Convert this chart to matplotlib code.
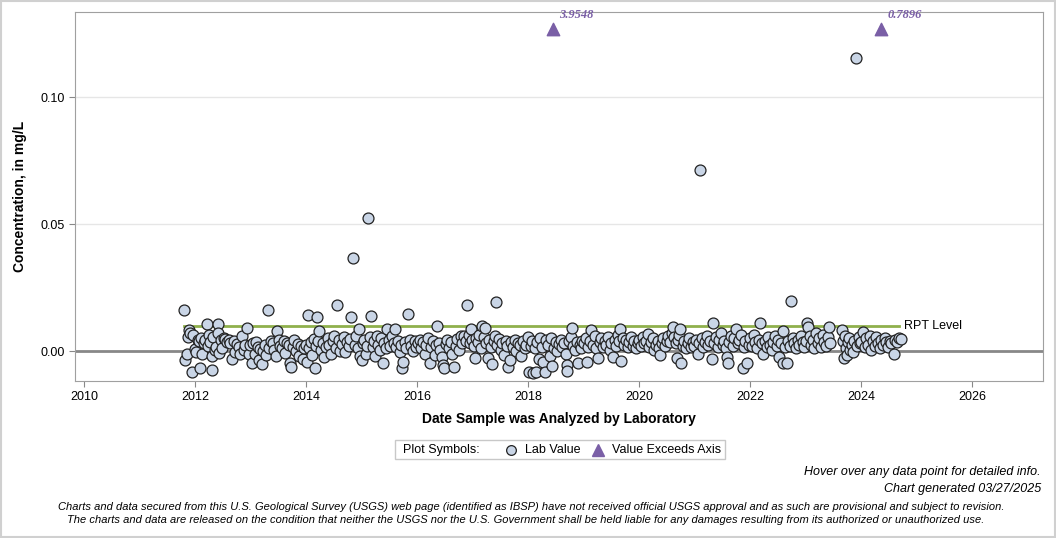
# USGS style scatter of lab concentrations with reporting level

import matplotlib.pyplot as plt
from matplotlib.lines import Line2D
from matplotlib.patches import Rectangle

plt.rcParams['font.family'] = ['Liberation Sans', 'DejaVu Sans']

pts_2011 = [(2011.80, 0.0161), (2011.82, -0.0035), (2011.85, -0.0012), (2011.87, 0.0055),
            (2011.90, 0.0083), (2011.92, 0.0070), (2011.95, -0.0083), (2011.97, 0.0062)]
pts_2012 = [(2012.00, 0.0008), (2012.02, -0.0002), (2012.05, 0.0045), (2012.07, 0.0038), (2012.09, -0.0067),
            (2012.11, 0.0050), (2012.13, -0.0010), (2012.16, 0.0030), (2012.18, 0.0042), (2012.21, 0.0106),
            (2012.24, 0.0020), (2012.26, 0.0062), (2012.27, 0.0035), (2012.30, -0.0075), (2012.31, -0.0020),
            (2012.33, 0.0055), (2012.36, 0.0005), (2012.38, 0.0015), (2012.41, 0.0106), (2012.42, 0.0070),
            (2012.44, -0.0008), (2012.47, 0.0042), (2012.49, 0.0012), (2012.52, 0.0052), (2012.55, 0.0048),
            (2012.58, 0.0035), (2012.61, 0.0044), (2012.64, 0.0030), (2012.67, -0.0030), (2012.70, 0.0040),
            (2012.73, -0.0005), (2012.76, 0.0028), (2012.79, 0.0015), (2012.82, -0.0010), (2012.85, 0.0060),
            (2012.88, 0.0005), (2012.94, 0.0091), (2012.91, 0.0022), (2012.97, -0.0012)]
pts_2013 = [(2013.00, 0.0022), (2013.03, -0.0048), (2013.05, 0.0030), (2013.08, -0.0010), (2013.10, 0.0035),
            (2013.13, 0.0015), (2013.15, -0.0035), (2013.18, 0.0008), (2013.21, -0.0050), (2013.23, 0.0000),
            (2013.26, 0.0025), (2013.29, -0.0015), (2013.32, 0.0161), (2013.34, 0.0012), (2013.37, 0.0040),
            (2013.40, 0.0032), (2013.43, 0.0005), (2013.46, -0.0020), (2013.48, 0.0079), (2013.51, 0.0045),
            (2013.54, 0.0020), (2013.57, 0.0010), (2013.60, 0.0038), (2013.63, -0.0008), (2013.66, 0.0030),
            (2013.69, 0.0025), (2013.71, -0.0047), (2013.73, -0.0063), (2013.76, 0.0015), (2013.79, 0.0042),
            (2013.82, 0.0000), (2013.85, 0.0028), (2013.88, -0.0018), (2013.91, 0.0020), (2013.94, -0.0030),
            (2013.97, 0.0010)]
pts_2014 = [(2014.00, 0.0025), (2014.02, -0.0043), (2014.04, 0.0142), (2014.06, 0.0010), (2014.09, 0.0035),
            (2014.11, -0.0015), (2014.14, 0.0048), (2014.16, -0.0067), (2014.18, 0.0020), (2014.20, 0.0134),
            (2014.22, 0.0040), (2014.24, 0.0079), (2014.27, 0.0005), (2014.30, 0.0030), (2014.33, -0.0025),
            (2014.36, 0.0015), (2014.39, 0.0050), (2014.42, 0.0022), (2014.45, -0.0010), (2014.48, 0.0038),
            (2014.51, 0.0060), (2014.54, 0.0012), (2014.56, 0.0181), (2014.59, 0.0045), (2014.62, 0.0000),
            (2014.65, 0.0028), (2014.68, 0.0055), (2014.71, -0.0005), (2014.74, 0.0035), (2014.77, 0.0018),
            (2014.79, 0.0048), (2014.81, 0.0134), (2014.85, 0.0366), (2014.88, 0.0025), (2014.90, 0.0060),
            (2014.93, 0.0010), (2014.95, 0.0087), (2014.98, -0.0020)]
pts_2015 = [(2015.01, -0.0035), (2015.03, 0.0030), (2015.05, 0.0045), (2015.08, -0.0010), (2015.10, 0.0020),
            (2015.12, 0.0524), (2015.15, 0.0055), (2015.17, 0.0138), (2015.20, 0.0015), (2015.22, 0.0040),
            (2015.25, -0.0020), (2015.28, 0.0060), (2015.30, 0.0025), (2015.33, 0.0005), (2015.36, 0.0050),
            (2015.39, -0.0047), (2015.41, 0.0032), (2015.44, 0.0012), (2015.46, 0.0087), (2015.49, 0.0045),
            (2015.52, 0.0020), (2015.55, 0.0060), (2015.58, 0.0030), (2015.60, 0.0087), (2015.63, 0.0015),
            (2015.66, 0.0040), (2015.69, -0.0005), (2015.71, 0.0025), (2015.73, -0.0067), (2015.75, -0.0043),
            (2015.78, 0.0035), (2015.81, 0.0010), (2015.84, 0.0146), (2015.87, 0.0042), (2015.90, 0.0020),
            (2015.93, 0.0000), (2015.96, 0.0038), (2015.99, 0.0015)]
pts_2016 = [(2016.02, 0.0030), (2016.05, 0.0045), (2016.08, 0.0010), (2016.11, 0.0035), (2016.14, -0.0010),
            (2016.17, 0.0025), (2016.20, 0.0050), (2016.23, -0.0047), (2016.26, 0.0015), (2016.29, 0.0040),
            (2016.32, -0.0015), (2016.34, 0.0022), (2016.36, 0.0098), (2016.39, 0.0030), (2016.42, 0.0005),
            (2016.45, -0.0025), (2016.47, -0.0055), (2016.49, -0.0067), (2016.52, 0.0028), (2016.55, 0.0045),
            (2016.58, 0.0010), (2016.61, 0.0035), (2016.64, -0.0012), (2016.67, -0.0063), (2016.70, 0.0020),
            (2016.73, 0.0048), (2016.76, 0.0005), (2016.79, 0.0058), (2016.82, 0.0030), (2016.85, 0.0060),
            (2016.88, 0.0040), (2016.90, 0.0181), (2016.93, 0.0065), (2016.95, 0.0030), (2016.97, 0.0087),
            (2016.99, 0.0045)]
pts_2017 = [(2017.02, 0.0020), (2017.05, -0.0028), (2017.07, 0.0050), (2017.10, 0.0035), (2017.12, 0.0065),
            (2017.15, 0.0010), (2017.17, 0.0098), (2017.20, 0.0055), (2017.23, 0.0091), (2017.25, 0.0030),
            (2017.28, -0.0028), (2017.30, 0.0045), (2017.33, 0.0015), (2017.35, -0.0051), (2017.38, 0.0038),
            (2017.40, 0.0060), (2017.42, 0.0193), (2017.45, 0.0025), (2017.48, 0.0048), (2017.51, 0.0005),
            (2017.54, 0.0032), (2017.57, -0.0015), (2017.60, 0.0040), (2017.63, 0.0020), (2017.65, -0.0063),
            (2017.67, -0.0035), (2017.70, 0.0035), (2017.73, 0.0015), (2017.76, 0.0042), (2017.79, 0.0000),
            (2017.82, 0.0030), (2017.85, 0.0022), (2017.88, -0.0020), (2017.91, 0.0038), (2017.94, 0.0010),
            (2017.97, 0.0025)]
pts_2018 = [(2018.00, 0.0055), (2018.02, -0.0083), (2018.05, 0.0020), (2018.07, 0.0040), (2018.09, -0.0087),
            (2018.12, 0.0010), (2018.14, -0.0083), (2018.17, 0.0035), (2018.20, -0.0030), (2018.22, 0.0050),
            (2018.25, 0.0015), (2018.28, -0.0045), (2018.30, -0.0083), (2018.33, 0.0045), (2018.36, 0.0025),
            (2018.39, -0.0020), (2018.42, 0.0050), (2018.44, -0.0059), (2018.47, 0.0012), (2018.50, 0.0035),
            (2018.53, 0.0000), (2018.56, 0.0028), (2018.59, 0.0045), (2018.62, 0.0015), (2018.65, 0.0030),
            (2018.68, -0.0010), (2018.70, -0.0055), (2018.71, -0.0079), (2018.74, 0.0040), (2018.77, 0.0055),
            (2018.79, 0.0091), (2018.82, 0.0020), (2018.85, 0.0005), (2018.88, 0.0035), (2018.90, -0.0047),
            (2018.93, 0.0025), (2018.96, 0.0010), (2018.98, 0.0040)]
pts_2019 = [(2019.01, 0.0030), (2019.04, 0.0050), (2019.06, -0.0043), (2019.09, 0.0015), (2019.11, 0.0040),
            (2019.14, 0.0083), (2019.17, 0.0025), (2019.20, 0.0060), (2019.23, 0.0010), (2019.26, -0.0028),
            (2019.29, 0.0035), (2019.32, 0.0050), (2019.35, 0.0015), (2019.38, 0.0040), (2019.41, 0.0025),
            (2019.44, 0.0055), (2019.47, 0.0005), (2019.50, 0.0030), (2019.53, -0.0024), (2019.56, 0.0045),
            (2019.59, 0.0020), (2019.62, 0.0065), (2019.64, 0.0038), (2019.66, 0.0087), (2019.68, -0.0039),
            (2019.71, 0.0050), (2019.74, 0.0025), (2019.77, 0.0042), (2019.80, 0.0015), (2019.83, 0.0035),
            (2019.86, 0.0055), (2019.89, 0.0020), (2019.92, 0.0040), (2019.95, 0.0010), (2019.98, 0.0030)]
pts_2020 = [(2020.01, 0.0045), (2020.04, 0.0020), (2020.07, 0.0055), (2020.10, 0.0030), (2020.13, 0.0040),
            (2020.16, 0.0067), (2020.19, 0.0015), (2020.22, 0.0035), (2020.25, 0.0050), (2020.28, 0.0005),
            (2020.31, 0.0025), (2020.34, 0.0040), (2020.37, 0.0010), (2020.38, -0.0016), (2020.41, 0.0030),
            (2020.44, 0.0050), (2020.47, 0.0020), (2020.50, 0.0040), (2020.53, 0.0060), (2020.56, 0.0035),
            (2020.59, 0.0070), (2020.61, 0.0094), (2020.64, 0.0055), (2020.66, 0.0030), (2020.68, -0.0028),
            (2020.70, 0.0045), (2020.72, 0.0065), (2020.74, 0.0087), (2020.76, -0.0047), (2020.79, 0.0020),
            (2020.82, 0.0040), (2020.85, 0.0010), (2020.88, 0.0030), (2020.91, 0.0050), (2020.94, 0.0015),
            (2020.97, 0.0035)]
pts_2021 = [(2021.00, 0.0020), (2021.03, 0.0045), (2021.06, -0.0010), (2021.08, 0.0030), (2021.10, 0.0713),
            (2021.13, 0.0050), (2021.16, 0.0015), (2021.19, 0.0035), (2021.22, 0.0060), (2021.25, 0.0025),
            (2021.28, 0.0040), (2021.31, -0.0032), (2021.33, 0.0110), (2021.36, 0.0030), (2021.39, 0.0055),
            (2021.42, 0.0015), (2021.45, 0.0045), (2021.48, 0.0070), (2021.51, 0.0025), (2021.54, 0.0040),
            (2021.57, 0.0010), (2021.59, -0.0024), (2021.60, -0.0047), (2021.63, 0.0035), (2021.66, 0.0060),
            (2021.69, 0.0020), (2021.72, 0.0050), (2021.75, 0.0087), (2021.78, 0.0030), (2021.81, 0.0045),
            (2021.84, 0.0065), (2021.87, -0.0067), (2021.89, 0.0015), (2021.92, 0.0040), (2021.95, -0.0047),
            (2021.98, 0.0025)]
pts_2022 = [(2022.01, 0.0050), (2022.04, 0.0020), (2022.07, 0.0065), (2022.10, 0.0035), (2022.13, 0.0010),
            (2022.16, 0.0045), (2022.18, 0.0110), (2022.21, 0.0030), (2022.24, -0.0010), (2022.27, 0.0040),
            (2022.30, 0.0015), (2022.33, 0.0055), (2022.36, 0.0025), (2022.39, 0.0005), (2022.42, 0.0035),
            (2022.45, 0.0060), (2022.48, 0.0020), (2022.51, 0.0045), (2022.53, -0.0024), (2022.56, 0.0030),
            (2022.59, 0.0079), (2022.60, -0.0047), (2022.63, 0.0015), (2022.66, -0.0047), (2022.69, 0.0040),
            (2022.72, 0.0020), (2022.74, 0.0197), (2022.77, 0.0050), (2022.80, 0.0030), (2022.83, 0.0010),
            (2022.86, 0.0045), (2022.89, 0.0025), (2022.92, 0.0060), (2022.95, 0.0035), (2022.98, 0.0015)]
pts_2023 = [(2023.01, 0.0040), (2023.03, 0.0110), (2023.05, 0.0094), (2023.08, 0.0060), (2023.10, 0.0025),
            (2023.13, 0.0045), (2023.16, 0.0010), (2023.19, 0.0070), (2023.22, 0.0030), (2023.25, 0.0050),
            (2023.28, 0.0015), (2023.31, 0.0065), (2023.34, 0.0035), (2023.37, 0.0020), (2023.40, 0.0055),
            (2023.42, 0.0094), (2023.45, 0.0030), (2023.66, 0.0083), (2023.68, 0.0040), (2023.69, -0.0028),
            (2023.71, 0.0060), (2023.73, 0.0010), (2023.75, -0.0015), (2023.77, 0.0035), (2023.79, 0.0050),
            (2023.81, 0.0005), (2023.83, 0.0025), (2023.85, -0.0005), (2023.88, 0.0040), (2023.91, 0.1154),
            (2023.93, 0.0020), (2023.96, 0.0055), (2023.98, 0.0030)]
pts_2024 = [(2024.01, 0.0035), (2024.04, 0.0075), (2024.07, 0.0015), (2024.10, 0.0050), (2024.13, 0.0025),
            (2024.16, 0.0060), (2024.19, 0.0005), (2024.22, 0.0040), (2024.25, 0.0020), (2024.28, 0.0055),
            (2024.31, 0.0030), (2024.34, 0.0010), (2024.37, 0.0045), (2024.40, 0.0025), (2024.43, 0.0050),
            (2024.46, 0.0035), (2024.49, 0.0015), (2024.52, 0.0040), (2024.55, 0.0030), (2024.59, -0.0012),
            (2024.62, 0.0045), (2024.65, 0.0035), (2024.68, 0.0051), (2024.72, 0.0048)]

# values beyond the axis top, drawn as triangles with the real value as label
exceed_dates = [2018.45, 2024.36]
exceed_values = ['3.9548', '0.7896']
exceed_plot_y = 0.1268

rpt_level = 0.01
rpt_start, rpt_end = 2011.80, 2024.68

all_pts = (pts_2011 + pts_2012 + pts_2013 + pts_2014 + pts_2015 + pts_2016 + pts_2017 +
           pts_2018 + pts_2019 + pts_2020 + pts_2021 + pts_2022 + pts_2023 + pts_2024)
dates = [p[0] for p in all_pts]
values = [p[1] for p in all_pts]

purple = '#7a5fa6'
fig = plt.figure(figsize=(10.56, 5.38), dpi=100)
fig.patches.append(Rectangle((0.001, 0.002), 0.998, 0.996, transform=fig.transFigure,
                             fill=False, edgecolor='#d0d0d0', lw=1.5))
ax = fig.add_axes([75 / 1056, 1 - 381 / 538, 968 / 1056, 369 / 538])

ax.axhline(0.05, color='#e6e6e6', lw=1, zorder=0)
ax.axhline(0.10, color='#e6e6e6', lw=1, zorder=0)
ax.axhline(0.0, color='#888888', lw=2, zorder=1)
ax.plot([rpt_start, rpt_end], [rpt_level, rpt_level], color='#8fb04c', lw=2, zorder=2)
ax.text(rpt_end + 0.09, rpt_level, 'RPT Level', fontsize=9, va='center', ha='left')

ax.scatter(dates, values, s=62, facecolor='#c9d5e6', edgecolor='#222222', linewidths=0.9, zorder=3)
ax.scatter(exceed_dates, [exceed_plot_y] * 2, marker='^', s=80, color=purple, zorder=3)
for d, v in zip(exceed_dates, exceed_values):
    ax.text(d + 0.12, exceed_plot_y + 0.0032, v, color=purple, fontsize=9, fontweight='bold',
            fontstyle='italic', family=['Liberation Serif', 'DejaVu Serif'], ha='left', va='bottom')

ax.set_xlim(2009.84, 2027.28)
ax.set_ylim(-0.0118, 0.1335)
ax.set_xticks(range(2010, 2027, 2))
ax.set_yticks([0.0, 0.05, 0.10])
ax.set_yticklabels(['0.00', '0.05', '0.10'])
ax.tick_params(labelsize=9, colors='#888888', labelcolor='black', length=4)
for s in ax.spines.values():
    s.set_color('#a0a0a0')
ax.set_xlabel('Date Sample was Analyzed by Laboratory', fontsize=10, fontweight='bold', labelpad=6)
ax.set_ylabel('Concentration, in mg/L', fontsize=10, fontweight='bold')
ax.yaxis.set_label_coords(-0.050, 0.5)

# legend box
fig.patches.append(Rectangle((395 / 1056, 1 - 459 / 538), 330 / 1056, 19 / 538,
                             transform=fig.transFigure, fill=False, edgecolor='#c8c8c8', lw=1))
ly = 1 - 450 / 538
fig.text(403 / 1056, ly, 'Plot Symbols:', fontsize=9, va='center')
fig.add_artist(Line2D([511 / 1056], [ly], marker='o', markersize=7, markerfacecolor='#c9d5e6',
                      markeredgecolor='#222222', markeredgewidth=0.9, transform=fig.transFigure))
fig.text(525 / 1056, ly, 'Lab Value', fontsize=9, va='center')
fig.add_artist(Line2D([598 / 1056], [ly], marker='^', markersize=8, color=purple,
                      transform=fig.transFigure))
fig.text(612 / 1056, ly, 'Value Exceeds Axis', fontsize=9, va='center')

foot = ['Liberation Sans Narrow', 'Liberation Sans', 'DejaVu Sans']
fig.text(1041 / 1056, 1 - 472 / 538, 'Hover over any data point for detailed info.', fontsize=9,
         style='italic', ha='right', va='center', family=foot)
fig.text(1041 / 1056, 1 - 489 / 538, 'Chart generated 03/27/2025', fontsize=9,
         style='italic', ha='right', va='center', family=foot)
fig.text(531 / 1056, 1 - 507 / 538,
         'Charts and data secured from this U.S. Geological Survey (USGS) web page (identified as IBSP) have not '
         'received official USGS approval and as such are provisional and subject to revision.',
         fontsize=8, style='italic', ha='center', va='center', family=foot)
fig.text(526 / 1056, 1 - 520 / 538,
         'The charts and data are released on the condition that neither the USGS nor the U.S. Government shall be '
         'held liable for any damages resulting from its authorized or unauthorized use.',
         fontsize=8, style='italic', ha='center', va='center', family=foot)

fig.savefig('out.png', dpi=100)
